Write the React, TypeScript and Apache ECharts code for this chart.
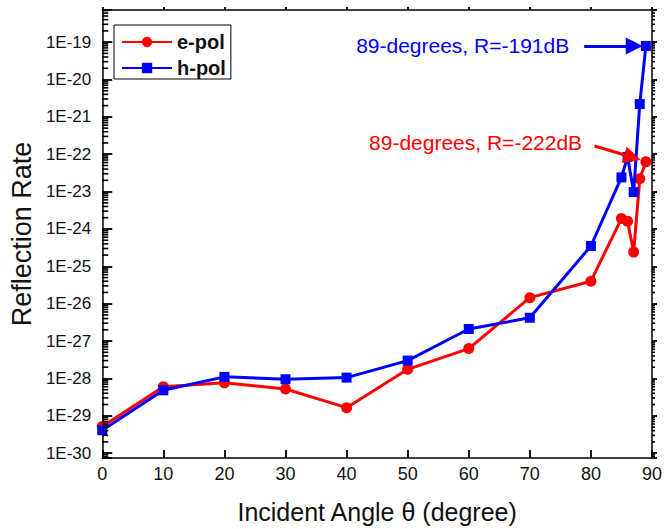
import React, { useEffect, useRef } from "react";
import * as echarts from "echarts";

// Incidence angles (degrees)
const angles = [0, 10, 20, 30, 40, 50, 60, 70, 80, 85, 86, 87, 88, 89];

// Reflection rate, e-polarisation
const ePol = [
  5.2e-30, 6.0e-29, 7.6e-29, 5.2e-29, 1.65e-29, 1.75e-28, 6.3e-28,
  1.45e-26, 4.0e-26, 1.9e-24, 1.6e-24, 2.4e-25, 2.2e-23, 6.3e-23,
];

// Reflection rate, h-polarisation
const hPol = [
  4.1e-30, 4.8e-29, 1.1e-28, 9.5e-29, 1.05e-28, 3.0e-28, 2.1e-27,
  4.2e-27, 3.5e-25, 2.4e-23, 8.5e-23, 9.7e-24, 2.2e-21, 7.9e-20,
];

// Decades that carry log minor ticks (k * 10^n, k = 2..9)
const minorDecades = [-31, -30, -29, -28, -27, -26, -25, -24, -23, -22, -21, -20, -19];
const minorMultipliers = [2, 3, 4, 5, 6, 7, 8, 9];

// Axis ranges (x in degrees, y in log10 units)
const xMin = 0;
const xMax = 90;
const yLogMin = -30.13;
const yLogMax = -18.14;

const RED = "#ff0000";
const BLUE = "#0000ff";
const FONT = "'Liberation Sans', Arial, Helvetica, sans-serif";

const toLog = (v: number) => Math.log10(v);
const dB = (v: number) => Math.round(10 * Math.log10(v));

export default function App() {
  const ref = useRef<HTMLDivElement>(null);

  useEffect(() => {
    if (!ref.current) return;
    const chart = echarts.init(ref.current, undefined, { renderer: "svg" });

    const last = angles.length - 1;
    const eLast = toLog(ePol[last]);
    const hLast = toLog(hPol[last]);

    const tickLabel = (v: number) =>
      Math.abs(v - Math.round(v)) < 1e-6 ? `1E${Math.round(v)}` : "";

    // log minor tick positions that fall inside the y range
    const minorLogs: number[] = [];
    minorDecades.forEach((d) =>
      minorMultipliers.forEach((k) => {
        const v = d + Math.log10(k);
        if (v > yLogMin && v < yLogMax) minorLogs.push(v);
      })
    );

    // minor ticks are short rect symbols sitting on the left / right frame
    const minorTickSeries = (x: number, len: number) => ({
      type: "scatter",
      silent: true,
      clip: false,
      z: 6,
      symbol: "rect",
      symbolSize: [len, 1.6],
      symbolOffset: [len / 2, 0],
      itemStyle: { color: "#000", opacity: 1 },
      data: minorLogs.map((v) => [x, v]),
    });

    const frameTick = (inside: boolean, length: number) => ({
      show: true,
      inside,
      length,
      lineStyle: { color: "#000", width: 1.8, opacity: 1 },
    });

    const option: any = {
      animation: false,
      backgroundColor: "#ffffff",
      grid: { left: 101, right: 9, top: 10, bottom: 70 },
      legend: {
        data: ["e-pol", "h-pol"],
        orient: "vertical",
        left: 114,
        top: 25,
        itemWidth: 50,
        itemHeight: 13,
        itemGap: 6,
        padding: [7, 5, 1, 7],
        borderColor: "#000",
        borderWidth: 1,
        textStyle: {
          fontFamily: FONT,
          fontSize: 20,
          fontWeight: "bold",
          color: "#111",
        },
      },
      xAxis: [
        {
          type: "value",
          min: xMin,
          max: xMax,
          interval: 10,
          name: "Incident Angle θ (degree)",
          nameLocation: "middle",
          nameGap: 41,
          nameTextStyle: { fontFamily: FONT, fontSize: 25, color: "#111" },
          axisLine: { show: true, onZero: false, lineStyle: { color: "#000", width: 1.5 } },
          axisTick: frameTick(true, 8),
          axisLabel: { margin: 7, fontFamily: FONT, fontSize: 18, color: "#111" },
          splitLine: { show: false },
        },
        {
          type: "value",
          position: "top",
          min: xMin,
          max: xMax,
          interval: 10,
          axisLine: { show: true, onZero: false, lineStyle: { color: "#000", width: 1.5 } },
          axisTick: frameTick(false, 3),
          axisLabel: { show: false },
          splitLine: { show: false },
        },
      ],
      yAxis: [
        {
          type: "value",
          min: yLogMin,
          max: yLogMax,
          minInterval: 1,
          maxInterval: 1,
          splitNumber: 12,
          name: "Reflection Rate",
          nameLocation: "middle",
          nameGap: 60,
          nameTextStyle: { fontFamily: FONT, fontSize: 27, color: "#111", padding: [0, 0, 0, 0] },
          axisLine: { show: true, onZero: false, lineStyle: { color: "#000", width: 1.5 } },
          axisTick: frameTick(true, 10),
          axisLabel: {
            margin: 11,
            fontFamily: FONT,
            fontSize: 17,
            color: "#111",
            formatter: tickLabel,
          },
          splitLine: { show: false },
        },
        {
          type: "value",
          position: "right",
          min: yLogMin,
          max: yLogMax,
          minInterval: 1,
          maxInterval: 1,
          splitNumber: 12,
          axisLine: { show: true, onZero: false, lineStyle: { color: "#000", width: 1.5 } },
          axisTick: frameTick(false, 5),
          axisLabel: { show: false },
          splitLine: { show: false },
        },
      ],
      series: [
        minorTickSeries(xMin, 6),
        minorTickSeries(xMax, 3),
        {
          name: "e-pol",
          type: "line",
          data: angles.map((a, i) => [a, toLog(ePol[i])]),
          symbol: "circle",
          symbolSize: 11,
          itemStyle: { color: RED },
          lineStyle: { color: RED, width: 3 },
          z: 3,
          markLine: {
            silent: true,
            symbol: ["none", "triangle"],
            symbolSize: 17,
            lineStyle: { color: RED, width: 3, type: "solid" },
            label: {
              show: true,
              position: "start",
              distance: 13,
              formatter: `89-degrees, R=${dB(ePol[last])}dB`,
              fontFamily: FONT,
              fontSize: 21,
              color: RED,
            },
            data: [[{ coord: [80.6, -21.78] }, { coord: [86.8, eLast + 0.12] }]],
          },
        },
        {
          name: "h-pol",
          type: "line",
          data: angles.map((a, i) => [a, toLog(hPol[i])]),
          symbol: "rect",
          symbolSize: 10,
          itemStyle: { color: BLUE },
          lineStyle: { color: BLUE, width: 3 },
          z: 4,
          markLine: {
            silent: true,
            symbol: ["none", "triangle"],
            symbolSize: 17,
            lineStyle: { color: BLUE, width: 3, type: "solid" },
            label: {
              show: true,
              position: "start",
              distance: 15,
              formatter: `89-degrees, R=${dB(hPol[last])}dB`,
              fontFamily: FONT,
              fontSize: 21,
              color: BLUE,
            },
            data: [[{ coord: [78.9, hLast] }, { coord: [87.1, hLast] }]],
          },
        },
      ],
    };

    chart.setOption(option);
    return () => chart.dispose();
  }, []);

  return (
    <div
      ref={ref}
      style={{ position: "absolute", left: 0, top: 0, width: 665, height: 529 }}
    />
  );
}
